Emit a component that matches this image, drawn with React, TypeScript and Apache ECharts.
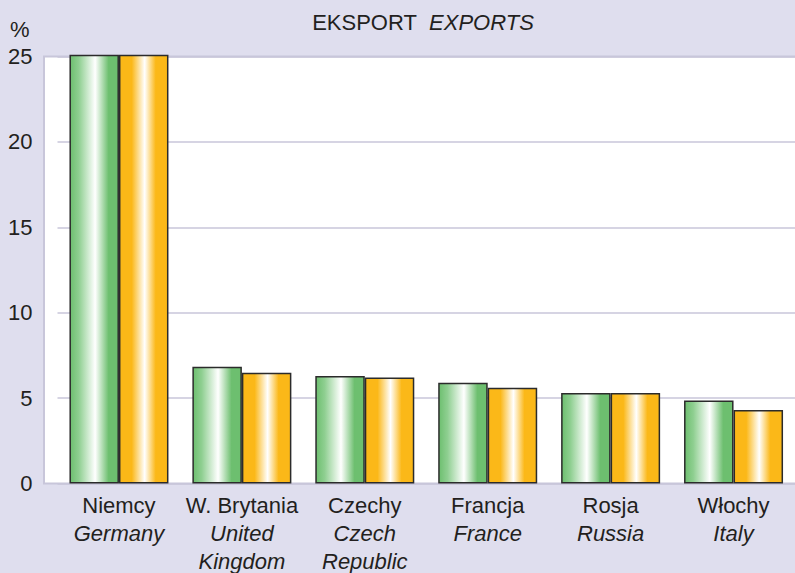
import React, { useEffect, useRef } from "react";
import * as echarts from "echarts";

const categoriesPl = ["Niemcy", "W. Brytania", "Czechy", "Francja", "Rosja", "Włochy"];
const categoriesEn = ["Germany", "United\nKingdom", "Czech\nRepublic", "France", "Russia", "Italy"];
const greenValues = [25.1, 6.83, 6.3, 5.9, 5.3, 4.86];
const orangeValues = [25.1, 6.48, 6.2, 5.6, 5.3, 4.3];
const yTicks = [0, 5, 10, 15, 20, 25];

const FONT = "'Liberation Sans', Arial, Helvetica, sans-serif";
const TEXT = "#231f20";
const FRAME = "#c8c6da";

export default function App() {
  const ref = useRef<HTMLDivElement>(null);
  useEffect(() => {
    document.body.style.margin = "0";
    document.body.style.background = "#dfdeee";
    if (!ref.current) return;
    const chart = echarts.init(ref.current, undefined, { renderer: "svg" });
    const greenGrad = new echarts.graphic.LinearGradient(0, 0, 1, 0, [
      { offset: 0, color: "#6dbf6f" },
      { offset: 0.18, color: "#8fcf91" },
      { offset: 0.52, color: "#ffffff" },
      { offset: 0.8, color: "#6dbf6f" },
      { offset: 1, color: "#6dbf6f" },
    ]);
    const orangeGrad = new echarts.graphic.LinearGradient(0, 0, 1, 0, [
      { offset: 0, color: "#fbb818" },
      { offset: 0.25, color: "#fbb818" },
      { offset: 0.52, color: "#ffffff" },
      { offset: 0.75, color: "#fbb818" },
      { offset: 1, color: "#fbb818" },
    ]);
    chart.setOption({
      animation: false,
      backgroundColor: "#dfdeee",
      textStyle: { fontFamily: FONT },
      grid: { left: 57.5, top: 56.5, width: 738, height: 427, containLabel: false },
      graphic: [
        {
          type: "rect",
          z: -10,
          shape: { x: 44, y: 56.5, width: 760, height: 427 },
          style: { fill: "#ffffff", stroke: FRAME, lineWidth: 2 },
        },
        {
          type: "text",
          x: 423,
          y: 11,
          style: {
            text: "{a|EKSPORT}  {b|EXPORTS}",
            align: "center",
            fontFamily: FONT,
            fontSize: 22,
            fill: TEXT,
            rich: {
              a: { fontFamily: FONT, fontSize: 22, fill: TEXT },
              b: { fontFamily: FONT, fontSize: 22, fontStyle: "italic", fill: TEXT },
            },
          },
        },
        {
          type: "text",
          x: 10,
          y: 18,
          style: { text: "%", fontFamily: FONT, fontSize: 22, fill: TEXT },
        },
      ],
      xAxis: {
        type: "category",
        data: categoriesPl,
        axisLine: { show: false },
        axisTick: { show: false },
        axisLabel: {
          margin: 8,
          interval: 0,
          formatter: (_v: string, i: number) =>
            `{a|${categoriesPl[i]}}\n` +
            categoriesEn[i].split("\n").map((s) => `{b|${s}}`).join("\n"),
          rich: {
            a: { fontFamily: FONT, fontSize: 22, color: TEXT, lineHeight: 28 },
            b: { fontFamily: FONT, fontSize: 22, color: TEXT, fontStyle: "italic", lineHeight: 28 },
          },
        },
      },
      yAxis: {
        type: "value",
        min: yTicks[0],
        max: yTicks[yTicks.length - 1],
        interval: 5,
        axisLine: { show: false },
        axisTick: { show: false },
        axisLabel: { fontFamily: FONT, fontSize: 22, color: TEXT, margin: 25 },
        splitLine: { lineStyle: { color: FRAME, width: 1.5 } },
      },
      series: [
        {
          type: "bar",
          data: greenValues,
          barWidth: 49.5,
          barGap: "0%",
          clip: false,
          itemStyle: { color: greenGrad, borderColor: "#2b2b2b", borderWidth: 1.5 },
        },
        {
          type: "bar",
          data: orangeValues,
          barWidth: 49.5,
          barGap: "0%",
          clip: false,
          itemStyle: { color: orangeGrad, borderColor: "#2b2b2b", borderWidth: 1.5 },
        },
      ],
    });
    return () => chart.dispose();
  }, []);
  return <div ref={ref} style={{ width: 795, height: 573 }} />;
}
